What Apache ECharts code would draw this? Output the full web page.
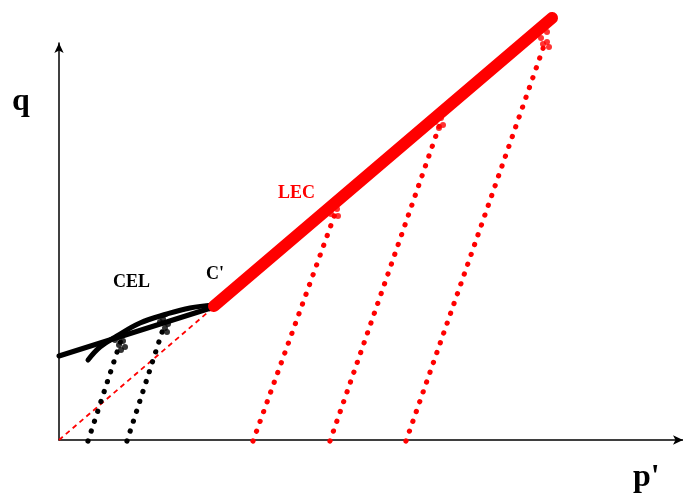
<!DOCTYPE html>
<html><head><meta charset="utf-8">
<script src="https://cdn.jsdelivr.net/npm/echarts@6/dist/echarts.min.js"></script>
<style>html,body{margin:0;padding:0;background:#fff}#c{width:683px;height:501px}</style>
</head><body><div id="c"></div>
<script>
// Schematic coordinates (p', q) in chart units
const cslLine = [[0,84],[155,133]];
const celArc = [[29,80],[41,93],[58,104],[81,117],[108,126],[131,132],[154,135]];
const originDash = [[0,0],[155,133]];
const lecLine = [[155,134],[493,422]];
const blackPath1 = [[29,-1],[62,100]];
const blackPath2 = [[68,-1],[105,114]];
const redPath1 = [[194,-1],[276,226]];
const redPath2 = [[271,-1],[381,316]];
const redPath3 = [[347,-1],[487,400]];
const blackBlobs = [[56,100],[60,95],[64,99],[59,103],[62,90],[66,93],[101,118],[106,112],[109,116],[104,121],[108,108]];
const redBlobs = [[272,226],[278,231],[279,224],[376,318],[382,322],[384,315],[380,312],[482,402],[488,398],[490,393],[484,396],[488,408]];

const chart = echarts.init(document.getElementById('c'));
const serif = '"Liberation Serif","DejaVu Serif",serif';
function ln(data, color, width, type, cap, smooth){
  return {type:'line', data, symbol:'none', clip:false, silent:true, smooth: smooth||false,
    lineStyle:{color, width, type:type||'solid', cap:cap||'round'}, z: 3};
}
chart.setOption({
  animation:false,
  grid:{left:59,right:0,top:43,bottom:61},
  xAxis:{type:'value',min:0,max:624,axisLine:{show:true,symbol:['none','arrow'],symbolSize:[7,10],lineStyle:{color:'#000',width:1.5}},
    axisTick:{show:false},axisLabel:{show:false},splitLine:{show:false}},
  yAxis:{type:'value',min:0,max:397,axisLine:{show:true,symbol:['none','arrow'],symbolSize:[7,10],lineStyle:{color:'#000',width:1.5}},
    axisTick:{show:false},axisLabel:{show:false},splitLine:{show:false}},
  series:[
    ln(originDash,'#ff0000',1.8,[5,4],'butt'),
    ln(blackPath1,'#000',5.2,[0.1,10.3]),
    ln(blackPath2,'#000',5.2,[0.1,10.3]),
    ln(redPath1,'#ff0000',5.2,[0.1,10.3]),
    ln(redPath2,'#ff0000',5.2,[0.1,10.3]),
    ln(redPath3,'#ff0000',5.2,[0.1,10.3]),
    ln(cslLine,'#000',5),
    ln(celArc,'#000',5,'solid','round',0.4),
    ln(lecLine,'#ff0000',12),
    {type:'scatter',data:blackBlobs,symbolSize:6,itemStyle:{color:'#000'},clip:false,silent:true,z:4},
    {type:'scatter',data:redBlobs,symbolSize:6,itemStyle:{color:'#ff0000'},clip:false,silent:true,z:4}
  ],
  graphic:[
    {type:'text',left:12,top:86,style:{text:'q',font:'bold 32px '+serif,fill:'#000'}},
    {type:'text',left:633,top:462,style:{text:"p'",font:'bold 32px '+serif,fill:'#000'}},
    {type:'text',left:278,top:184,style:{text:'LEC',font:'bold 18px '+serif,fill:'#ff0000'}},
    {type:'text',left:113,top:273,style:{text:'CEL',font:'bold 18px '+serif,fill:'#000'}},
    {type:'text',left:206,top:265,style:{text:"C'",font:'bold 18px '+serif,fill:'#000'}}
  ]
});
</script></body></html>
